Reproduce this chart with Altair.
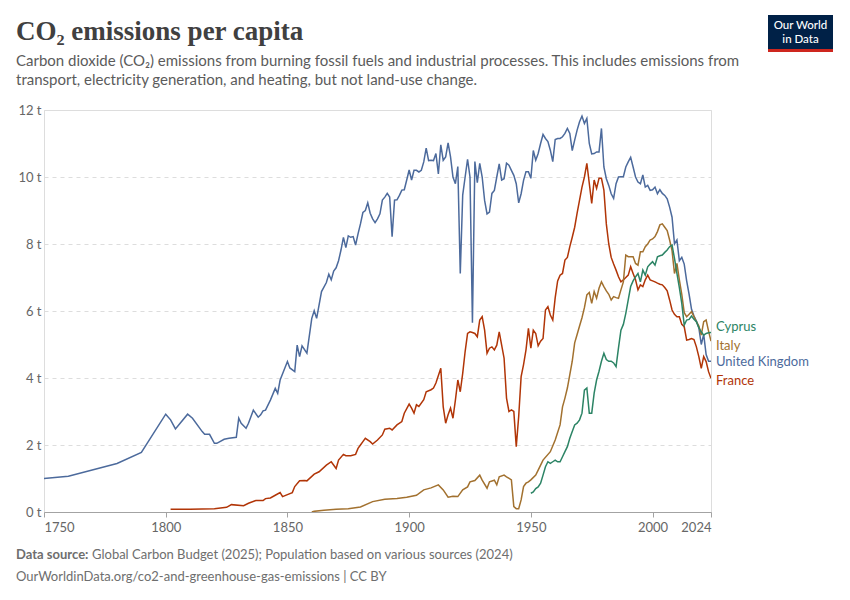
import altair as alt
import pandas as pd

# ---------------- data (tonnes CO2 per person) ----------------
uk_years = [1750,1760,1780,1790,1800,1802,1804,1809,1811,1815,1816,1818,1820,1821,1824,1826,1829,1830,1831,1833,
            1834,1836,1838,1839,1840,1841,1843,1845,1846,1847,1850,1851,1853,1854,1855,1856,1858,1860,1861,1862,
            1864,1866,1867,1868,1869,1870,1871,1872,1873,1874,1875,1876,1877,1878,1879,1880,1881,1882,1883,1884,
            1885,1886,1887,1888,1889,1890,1891,1892,1893,1894,1895,1896,1897,1898,1899,1900,1901,1902,1903,1904,
            1905,1906,1907,1908,1909,1910,1911,1912,1913,1914,1915,1916,1917,1918,1919,1920,1921,1922,1923,1924,
            1925,1926,1927,1928,1929,1930,1931,1932,1933,1934,1935,1936,1937,1938,1939,1940,1941,1942,1943,1944,
            1945,1946,1947,1948,1949,1950,1951,1952,1953,1954,1955,1956,1957,1958,1959,1960,1961,1962,1963,1964,
            1965,1966,1967,1968,1969,1970,1971,1972,1973,1974,1975,1976,1977,1978,1979,1980,1981,1982,1983,1984,
            1985,1986,1987,1988,1989,1990,1991,1992,1993,1994,1995,1996,1997,1998,1999,2000,2001,2002,2003,2004,
            2005,2006,2007,2008,2009,2010,2011,2012,2013,2014,2015,2016,2017,2018,2019,2020,2021,2022,2023,2024]
uk_values = [1.00,1.07,1.45,1.78,2.92,2.75,2.48,2.92,2.80,2.40,2.32,2.32,2.05,2.05,2.17,2.20,2.23,2.80,2.65,2.50,
             2.65,3.04,2.83,2.90,3.02,3.04,3.34,3.69,3.54,3.94,4.49,4.30,4.19,4.98,4.64,4.96,4.74,5.78,6.01,5.78,
             6.58,6.85,7.10,6.93,7.19,7.29,7.50,7.82,8.20,7.89,8.24,8.20,8.22,7.97,8.30,8.60,8.94,9.00,9.23,8.92,
             8.75,8.64,8.75,8.90,9.31,9.40,9.51,9.40,8.22,9.31,9.32,9.45,9.61,9.62,9.91,10.21,9.91,10.20,10.20,10.15,
             10.20,10.45,10.86,10.49,10.50,10.49,10.70,10.09,10.96,10.50,10.60,11.02,10.60,10.00,9.80,10.31,7.12,9.46,10.00,10.53,
             10.00,5.65,10.46,9.83,10.41,10.00,9.30,8.90,8.95,9.51,9.60,10.00,10.39,9.91,9.95,10.41,10.35,10.20,10.05,9.80,
             9.23,9.50,9.90,10.16,10.16,9.96,10.79,10.50,10.70,11.00,11.27,11.15,11.06,10.80,10.46,11.12,11.15,11.15,11.20,11.30,
             11.45,11.30,10.79,11.10,11.40,11.65,11.82,11.60,11.75,11.00,10.69,10.70,10.75,10.75,11.45,10.30,9.95,9.75,9.50,9.36,
             9.80,10.00,10.01,10.01,10.30,10.45,10.59,10.30,10.00,9.85,9.80,10.06,9.70,9.75,9.60,9.62,9.70,9.50,9.62,9.51,
             9.45,9.35,9.10,8.80,8.00,8.12,7.50,7.60,7.40,6.90,6.50,6.05,5.85,5.70,5.50,5.00,5.30,4.70,4.50,4.50]

fr_years = [1802,1810,1820,1825,1827,1832,1834,1837,1840,1841,1843,1845,1847,1848,1850,1852,1853,1855,1857,1858,
            1861,1863,1866,1868,1870,1871,1873,1874,1876,1878,1879,1880,1881,1882,1884,1885,1887,1889,1890,1892,
            1893,1895,1897,1898,1900,1901,1902,1903,1904,1906,1907,1909,1910,1911,1913,1914,1915,1916,1917,1918,
            1919,1920,1921,1922,1923,1924,1925,1926,1927,1928,1929,1930,1931,1932,1933,1934,1935,1936,1937,1938,
            1939,1940,1941,1942,1943,1944,1945,1946,1947,1948,1949,1950,1951,1952,1953,1954,1955,1956,1957,1958,
            1959,1960,1961,1962,1963,1964,1965,1966,1967,1968,1969,1970,1971,1972,1973,1974,1975,1976,1977,1978,
            1979,1980,1981,1982,1983,1984,1985,1986,1987,1988,1989,1990,1991,1992,1993,1994,1995,1996,1997,1998,
            1999,2000,2001,2002,2003,2004,2005,2006,2007,2008,2009,2010,2011,2012,2013,2014,2015,2016,2017,2018,
            2019,2020,2021,2022,2023,2024]
fr_values = [0.08,0.08,0.10,0.14,0.22,0.19,0.26,0.34,0.34,0.40,0.42,0.50,0.58,0.46,0.52,0.58,0.76,0.93,0.94,0.93,
             1.13,1.20,1.40,1.50,1.30,1.55,1.72,1.68,1.68,1.72,1.90,2.00,2.10,2.20,2.10,2.03,2.15,2.30,2.47,2.50,
             2.45,2.60,2.70,2.95,3.22,3.10,2.95,3.20,3.15,3.35,3.59,3.65,3.70,3.85,4.29,3.14,2.65,2.90,3.10,2.80,
             3.34,3.94,3.59,4.14,4.79,5.33,5.38,5.36,5.33,5.23,5.73,5.83,5.43,4.74,4.89,4.93,4.84,4.98,5.38,4.98,
             4.59,3.40,3.00,3.05,3.00,1.95,2.85,4.04,4.40,4.84,5.48,4.89,5.43,5.33,4.96,5.10,5.18,6.03,6.13,5.88,
             5.73,6.40,6.90,7.07,7.12,7.52,7.60,7.92,8.20,8.50,8.92,9.31,9.70,10.00,10.41,9.81,9.21,9.91,9.66,9.96,
             9.96,9.61,8.60,8.00,7.60,7.40,7.22,7.02,6.87,6.93,7.00,7.07,7.32,7.12,6.93,6.63,6.78,6.73,6.93,7.07,
             6.93,6.90,6.87,6.83,6.80,6.78,6.70,6.60,6.33,6.03,5.90,5.83,5.83,5.60,5.53,5.13,5.15,5.18,5.15,4.93,
             4.64,4.29,4.64,4.49,4.19,3.99]

it_years = [1860,1861,1865,1870,1875,1880,1885,1890,1895,1899,1903,1906,1909,1912,1914,1916,1918,1920,1922,1924,
            1925,1927,1929,1930,1932,1933,1935,1936,1937,1939,1940,1942,1943,1944,1945,1946,1947,1948,1949,1950,
            1952,1953,1955,1958,1960,1962,1963,1964,1965,1966,1967,1968,1969,1970,1971,1972,1973,1974,1975,1976,
            1977,1978,1979,1980,1981,1982,1983,1984,1985,1986,1987,1988,1989,1990,1991,1992,1993,1994,1995,1996,
            1997,1998,1999,2000,2001,2002,2003,2004,2005,2006,2007,2008,2009,2010,2011,2012,2013,2014,2015,2016,
            2017,2018,2019,2020,2021,2022,2023,2024]
it_values = [0.00,0.02,0.05,0.08,0.10,0.15,0.31,0.38,0.40,0.44,0.50,0.66,0.72,0.81,0.66,0.44,0.47,0.46,0.66,0.75,
             0.90,0.94,1.10,0.95,0.71,0.90,0.95,0.81,1.05,1.10,1.05,0.96,0.16,0.10,0.10,0.36,0.76,0.86,0.90,0.96,
             1.10,1.25,1.55,1.80,2.15,2.60,3.14,3.40,3.70,4.10,4.50,5.05,5.30,5.55,5.80,6.10,6.48,6.55,6.23,6.58,
             6.38,6.68,6.87,6.73,6.60,6.50,6.33,6.43,6.40,6.38,6.63,6.87,7.67,7.62,7.62,7.62,7.42,7.37,7.77,7.77,
             7.92,8.00,8.12,8.15,8.22,8.37,8.57,8.60,8.50,8.40,8.12,7.80,7.12,7.42,6.93,6.50,5.95,5.83,5.90,5.98,
             5.83,5.68,5.55,5.28,5.68,5.73,5.40,5.10]

cy_years = [1950,1951,1952,1953,1954,1955,1956,1957,1958,1959,1960,1961,1962,1963,1964,1965,1966,1967,1968,1969,
            1970,1971,1972,1973,1974,1975,1976,1977,1978,1979,1980,1981,1982,1983,1984,1985,1986,1987,1988,1989,
            1990,1991,1992,1993,1994,1995,1996,1997,1998,1999,2000,2001,2002,2003,2004,2005,2006,2007,2008,2009,
            2010,2011,2012,2013,2014,2015,2016,2017,2018,2019,2020,2021,2022,2023,2024]
cy_values = [0.56,0.60,0.70,0.75,0.86,1.10,1.35,1.50,1.45,1.50,1.55,1.50,1.50,1.65,1.80,1.95,2.20,2.40,2.60,2.65,
             2.75,2.95,3.64,3.70,2.95,2.95,3.55,3.94,4.20,4.50,4.74,4.55,4.50,4.50,4.45,4.34,4.90,5.43,5.60,5.93,
             6.33,6.73,6.90,7.02,7.12,6.87,7.22,7.07,7.32,7.40,7.47,7.37,7.62,7.65,7.67,7.75,7.82,7.92,7.97,7.57,
             7.12,6.70,6.23,5.58,5.73,5.75,5.85,5.75,5.68,5.50,5.38,5.28,5.33,5.35,5.36]

countries = ["Cyprus", "Italy", "United Kingdom", "France"]
colors = ["#2C8465", "#A2712F", "#4C6A9C", "#B13507"]
x_ticks = [1750, 1800, 1850, 1900, 1950, 2000, 2024]
y_ticks = [0, 2, 4, 6, 8, 10, 12]

title = "CO\u2082 emissions per capita"
subtitle = ["Carbon dioxide (CO\u2082) emissions from burning fossil fuels and industrial processes. This includes emissions from",
            "transport, electricity generation, and heating, but not land-use change."]
source_bold = "Data source:"
source_text = "Global Carbon Budget (2025); Population based on various sources (2024)"
url_text = "OurWorldinData.org/co2-and-greenhouse-gas-emissions | CC BY"

# ---------------- build table ----------------
series = {"United Kingdom": (uk_years, uk_values), "France": (fr_years, fr_values),
          "Italy": (it_years, it_values), "Cyprus": (cy_years, cy_values)}
rows = []
for c, (ys, vs) in series.items():
    for y, v in zip(ys, vs):
        rows.append({"country": c, "year": y, "value": v})
df = pd.DataFrame(rows)
last = df.sort_values("year").groupby("country").tail(1)

FONT = "Lato"
W, H = 667, 402

xscale = alt.Scale(domain=[1750, 2024], nice=False, zero=False)
yscale = alt.Scale(domain=[0, 12], nice=False)
cscale = alt.Scale(domain=countries, range=colors)

lines = alt.Chart(df).mark_line(strokeWidth=1.5, clip=True).encode(
    x=alt.X("year:Q", scale=xscale, title=None,
            axis=alt.Axis(values=x_ticks, format="d", grid=False, domainColor="#a3a3a3",
                          tickColor="#a3a3a3", tickSize=5, labelColor="#666666", labelFontSize=13,
                          labelFont=FONT, labelPadding=4, labelOverlap=False, labelFlush=True)),
    y=alt.Y("value:Q", scale=yscale, title=None,
            axis=alt.Axis(values=y_ticks, labelExpr="datum.value + ' t'", domain=False, ticks=False,
                          grid=True, gridColor="#dddddd", gridDash=[4, 4], labelColor="#666666",
                          labelFontSize=13, labelFont=FONT, labelPadding=3)),
    color=alt.Color("country:N", scale=cscale, legend=None),
    detail="country:N",
)

label_layers = []
dys = {"Cyprus": -5, "Italy": 5, "United Kingdom": 1, "France": 3}
for c, col in zip(countries, colors):
    label_layers.append(
        alt.Chart(last[last.country == c]).mark_text(
            align="left", baseline="middle", dx=5, dy=dys[c], font=FONT, fontSize=13, color=col
        ).encode(x=alt.X("year:Q", scale=xscale), y=alt.Y("value:Q", scale=yscale), text="country:N")
    )

def txt(s, x, y, size, color, weight="normal", font=FONT, align="left"):
    return alt.Chart(pd.DataFrame({"t": [s]})).mark_text(
        align=align, baseline="middle", font=font, fontSize=size, color=color, fontWeight=weight
    ).encode(text="t:N", x=alt.value(x), y=alt.value(y))

texts = [
    txt(title, -28, -78, 27, "#404040", weight="bold", font="Liberation Serif"),
    txt(subtitle[0], -28, -49, 15, "#5b5b5b"),
    txt(subtitle[1], -28, -30, 15, "#5b5b5b"),
    txt(source_bold, -28, 445, 13, "#6e6e6e", weight="bold"),
    txt(source_text, 48, 445, 13, "#6e6e6e"),
    txt(url_text, -28, 467, 13, "#6e6e6e"),
]

logo_bg = alt.Chart(pd.DataFrame({"t": [0]})).mark_rect(color="#002147").encode(
    x=alt.value(724), x2=alt.value(789), y=alt.value(-95), y2=alt.value(-61))
logo_bar = alt.Chart(pd.DataFrame({"t": [0]})).mark_rect(color="#ce261e").encode(
    x=alt.value(724), x2=alt.value(789), y=alt.value(-61), y2=alt.value(-58))
logo_t1 = txt("Our World", 756.5, -84.5, 11.5, "#ffffff", weight=500, align="center")
logo_t2 = txt("in Data", 756.5, -70.5, 11.5, "#ffffff", weight=500, align="center")

chart = alt.layer(lines, *label_layers, *texts, logo_bg, logo_bar, logo_t1, logo_t2).properties(
    width=W, height=H,
    autosize=alt.AutoSizeParams(type="none"),
    padding={"left": 36, "top": 102, "right": 131, "bottom": 72},
).configure_view(stroke=None).configure(background="#ffffff")

chart.save("out.html", embed_options={"renderer": "svg", "actions": False})
